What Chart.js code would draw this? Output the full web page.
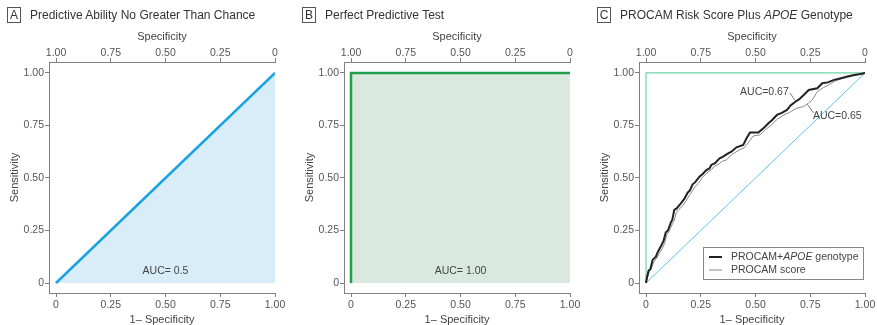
<!DOCTYPE html>
<html>
<head>
<meta charset="utf-8">
<script src="https://cdn.jsdelivr.net/npm/chart.js@4.4.1/dist/chart.umd.min.js"></script>
<style>
  body { margin: 0; background: #fff; width: 877px; height: 325px; position: relative; overflow: hidden;
         font-family: 'Liberation Sans', Arial, sans-serif; }
  .panel { position: absolute; top: 0; width: 293px; height: 325px; }
  .panel canvas { position: absolute; left: 0; top: 0; }
  .title { position: absolute; top: 7px; left: 7px; font-size: 12px; color: #333; white-space: nowrap;
           display: flex; align-items: center; z-index: 2; }
  .tag { box-sizing: border-box; border: 1px solid #555; width: 14px; height: 16px; line-height: 14px;
         text-align: center; margin-right: 9px; font-size: 12px; }
</style>
</head>
<body>
<div class="panel" style="left:0px">
  <div class="title"><span class="tag">A</span>Predictive Ability No Greater Than Chance</div>
  <canvas id="chartA" width="293" height="325"></canvas>
</div>
<div class="panel" style="left:295px">
  <div class="title"><span class="tag">B</span>Perfect Predictive Test</div>
  <canvas id="chartB" width="293" height="325"></canvas>
</div>
<div class="panel" style="left:590px">
  <div class="title"><span class="tag">C</span>PROCAM Risk Score Plus&nbsp;<i>APOE</i>&nbsp;Genotype</div>
  <canvas id="chartC" width="293" height="325"></canvas>
</div>
<script>
// axis ticks
const tickValues = [0, 0.25, 0.5, 0.75, 1];
const bottomLabels = ['0', '0.25', '0.50', '0.75', '1.00'];
const topLabels = ['1.00', '0.75', '0.50', '0.25', '0'];

// A: no better than chance
const chanceX = [0, 1];
const chanceY = [0, 1];

// B: perfect test
const perfectX = [0, 0, 1];
const perfectY = [0, 1, 1];

// C: PROCAM + APOE genotype
const apoeFpr = [0, 0.005, 0.012, 0.02, 0.03, 0.045, 0.055, 0.068, 0.08, 0.09, 0.1, 0.114, 0.12, 0.129, 0.14,
  0.16, 0.175, 0.19, 0.2, 0.213, 0.225, 0.244, 0.26, 0.275, 0.29, 0.298, 0.315, 0.336, 0.35, 0.375, 0.39,
  0.413, 0.444, 0.459, 0.475, 0.513, 0.536, 0.559, 0.575, 0.598, 0.62, 0.644, 0.66, 0.682, 0.7, 0.72,
  0.743, 0.782, 0.805, 0.83, 0.859, 0.89, 0.92, 0.95, 0.98, 1];
const apoeTpr = [0, 0.03, 0.06, 0.065, 0.11, 0.125, 0.15, 0.175, 0.2, 0.24, 0.25, 0.29, 0.3, 0.348, 0.355,
  0.38, 0.4, 0.43, 0.44, 0.47, 0.48, 0.506, 0.52, 0.538, 0.545, 0.562, 0.57, 0.594, 0.6, 0.617, 0.625,
  0.646, 0.657, 0.689, 0.716, 0.716, 0.737, 0.76, 0.775, 0.8, 0.81, 0.824, 0.845, 0.863, 0.875, 0.895,
  0.919, 0.927, 0.951, 0.955, 0.967, 0.975, 0.983, 0.99, 0.995, 1];

// C: PROCAM score alone
const procamFpr = [0, 0.008, 0.015, 0.025, 0.035, 0.05, 0.06, 0.075, 0.085, 0.095, 0.105, 0.12, 0.13, 0.138,
  0.15, 0.17, 0.185, 0.2, 0.21, 0.225, 0.24, 0.255, 0.27, 0.285, 0.3, 0.31, 0.33, 0.35, 0.367, 0.39, 0.42,
  0.45, 0.47, 0.49, 0.52, 0.545, 0.57, 0.6, 0.63, 0.66, 0.69, 0.72, 0.742, 0.759, 0.77, 0.782, 0.81, 0.834,
  0.86, 0.9, 0.94, 0.97, 1];
const procamTpr = [0, 0.03, 0.055, 0.07, 0.1, 0.12, 0.14, 0.165, 0.19, 0.23, 0.245, 0.28, 0.3, 0.335,
  0.35, 0.37, 0.395, 0.42, 0.435, 0.46, 0.475, 0.5, 0.515, 0.53, 0.54, 0.555, 0.565, 0.58, 0.586, 0.61, 0.63,
  0.645, 0.672, 0.7, 0.705, 0.73, 0.75, 0.78, 0.8, 0.815, 0.833, 0.84, 0.857, 0.871, 0.89, 0.911, 0.93, 0.943,
  0.96, 0.975, 0.985, 0.993, 1];

const FONT = "'Liberation Sans', Arial, sans-serif";
const AXIS = '#808080';
const TEXT = '#555';

const toPoints = (xs, ys) => xs.map((x, i) => ({ x, y: ys[i] }));

function makeScales() {
    const grid = { display: true, drawOnChartArea: false, drawTicks: true, tickLength: 4, color: AXIS, lineWidth: 1 };
    const border = { display: true, color: AXIS, width: 1 };
    const setTicks = s => { s.ticks = tickValues.map(v => ({ value: v })); };
    const ticks = (labels, padding) => ({
        color: TEXT, font: { size: 10.5, family: FONT }, padding, maxRotation: 0, autoSkip: false,
        callback: v => labels[tickValues.indexOf(v)]
    });
    const title = (text, padding) => ({
        display: true, text, color: '#444', font: { size: 11, family: FONT, lineHeight: 1 }, padding
    });
    return {
        x: {
            type: 'linear', position: 'bottom', min: -0.032, max: 1, grid, border,
            ticks: ticks(bottomLabels, 2), afterBuildTicks: setTicks, afterFit: s => { s.height = 32; },
            title: title('1– Specificity', { top: 0, bottom: 0 })
        },
        x2: {
            type: 'linear', position: 'top', min: -0.032, max: 1, grid, border,
            ticks: ticks(topLabels, -1), afterBuildTicks: setTicks, afterFit: s => { s.height = 38; },
            title: title('Specificity', { top: 7, bottom: 0 })
        },
        y: {
            type: 'linear', position: 'left', min: -0.0476, max: 1.052, grid, border,
            ticks: ticks(bottomLabels, 1), afterBuildTicks: setTicks, afterFit: s => { s.width = 49; },
            title: title('Sensitivity', { top: 9, bottom: 0 })
        }
    };
}

// text notes in data coordinates, with optional leader line
const notesPlugin = {
    id: 'notes',
    afterDatasetsDraw(chart, args, opts) {
        const { ctx, scales: { x, y } } = chart;
        ctx.save();
        (opts.items || []).forEach(n => {
            ctx.font = '10.5px ' + FONT;
            ctx.fillStyle = '#444';
            ctx.textAlign = n.align || 'center';
            ctx.textBaseline = 'middle';
            ctx.fillText(n.text, x.getPixelForValue(n.x), y.getPixelForValue(n.y));
            if (n.lead) {
                ctx.strokeStyle = '#555';
                ctx.lineWidth = 0.8;
                ctx.beginPath();
                ctx.moveTo(x.getPixelForValue(n.lead[0]), y.getPixelForValue(n.lead[1]));
                ctx.lineTo(x.getPixelForValue(n.lead[2]), y.getPixelForValue(n.lead[3]));
                ctx.stroke();
            }
        });
        ctx.restore();
    }
};

// boxed legend at lower right, with italic APOE
const rocLegend = {
    id: 'rocLegend',
    afterDraw(chart) {
        const { ctx, chartArea: a } = chart;
        const right = a.right - 2, bottom = a.bottom - 14;
        const left = right - 160, top = bottom - 32;
        ctx.save();
        ctx.fillStyle = '#fff';
        ctx.fillRect(left, top, right - left, bottom - top);
        ctx.strokeStyle = '#888';
        ctx.lineWidth = 1;
        ctx.strokeRect(left + 0.5, top + 0.5, right - left, bottom - top);
        const rows = [
            { color: '#222', width: 2, parts: [['PROCAM+', ''], ['APOE', 'italic '], [' genotype', '']] },
            { color: '#8a8a8a', width: 1, parts: [['PROCAM score', '']] }
        ];
        rows.forEach((r, i) => {
            const yy = top + 10 + i * 13;
            ctx.strokeStyle = r.color;
            ctx.lineWidth = r.width;
            ctx.beginPath();
            ctx.moveTo(left + 6, yy);
            ctx.lineTo(left + 19, yy);
            ctx.stroke();
            let xx = left + 28;
            ctx.fillStyle = '#444';
            ctx.textBaseline = 'middle';
            ctx.textAlign = 'left';
            r.parts.forEach(([t, style]) => {
                ctx.font = style + '10.5px ' + FONT;
                ctx.fillText(t, xx, yy);
                xx += ctx.measureText(t).width;
            });
        });
        ctx.restore();
    }
};

const baseOptions = notes => ({
    responsive: false,
    animation: false,
    layout: { padding: { top: 24, left: 0, right: 18, bottom: 0 } },
    plugins: { legend: { display: false }, tooltip: { enabled: false }, notes: { items: notes } },
    scales: makeScales()
});

new Chart(document.getElementById('chartA'), {
    type: 'scatter',
    data: {
        datasets: [{
            data: toPoints(chanceX, chanceY),
            showLine: true, pointRadius: 0, borderColor: '#1aa3e0', borderWidth: 2.5,
            fill: 'origin', backgroundColor: '#d9edf9'
        }]
    },
    options: baseOptions([{ x: 0.5, y: 0.055, text: 'AUC= 0.5' }]),
    plugins: [notesPlugin]
});

new Chart(document.getElementById('chartB'), {
    type: 'scatter',
    data: {
        datasets: [{
            data: toPoints(perfectX, perfectY),
            showLine: true, pointRadius: 0, borderColor: '#1f9f4a', borderWidth: 2.5,
            fill: 'origin', backgroundColor: '#dae9e0'
        }]
    },
    options: baseOptions([{ x: 0.5, y: 0.055, text: 'AUC= 1.00' }]),
    plugins: [notesPlugin]
});

new Chart(document.getElementById('chartC'), {
    type: 'scatter',
    data: {
        datasets: [
            { data: toPoints(apoeFpr, apoeTpr), showLine: true, pointRadius: 0, borderColor: '#222', borderWidth: 2, order: 0 },
            { data: toPoints(procamFpr, procamTpr), showLine: true, pointRadius: 0, borderColor: '#8a8a8a', borderWidth: 1, order: 1 },
            { data: toPoints(chanceX, chanceY), showLine: true, pointRadius: 0, borderColor: '#5ec3ee', borderWidth: 1, order: 2 },
            { data: toPoints(perfectX, perfectY), showLine: true, pointRadius: 0, borderColor: '#6fd6a5', borderWidth: 1.2, order: 3 }
        ]
    },
    options: baseOptions([
        { x: 0.652, y: 0.91, text: 'AUC=0.67', align: 'right', lead: [0.657, 0.905, 0.682, 0.868] },
        { x: 0.762, y: 0.795, text: 'AUC=0.65', align: 'left', lead: [0.737, 0.85, 0.765, 0.81] }
    ]),
    plugins: [notesPlugin, rocLegend]
});
</script>
</body>
</html>
